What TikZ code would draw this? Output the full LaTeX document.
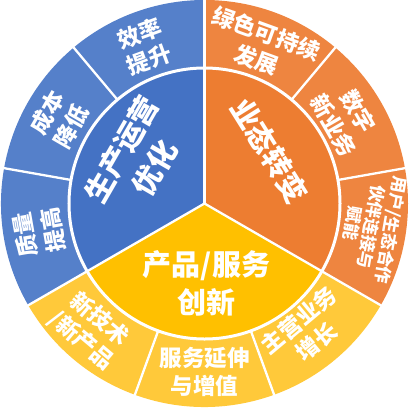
\documentclass[tikz,border=0pt]{standalone}
\usepackage{fontspec}
\newfontfamily\cjk{Noto Sans CJK SC}
\usetikzlibrary{calc}
\definecolor{blueIn}{HTML}{4472C4}
\definecolor{blueOut}{HTML}{5580CA}
\definecolor{orangeIn}{HTML}{ED7D31}
\definecolor{orangeOut}{HTML}{EE8540}
\definecolor{yellowIn}{HTML}{FFC000}
\definecolor{yellowOut}{HTML}{FFC93A}
\def\piepart[#1](#2:#3){\fill[#1] (0,0) -- (#2:136) arc (#2:#3:136) -- cycle;}
\def\ringpart[#1](#2:#3){\fill[#1] (#2:136) arc (#2:#3:136) -- (#3:203.5) arc (#3:#2:203.5) -- cycle;}

\begin{document}
\begin{tikzpicture}[x=1pt, y=1pt,
	outerlab/.style={text=white, inner sep=0pt, align=center, font=\cjk\bfseries\fontsize{22.5}{28}\selectfont},
	smalllab/.style={outerlab, font=\cjk\bfseries\fontsize{17}{19.5}\selectfont},
	innerlab/.style={text=white, inner sep=0pt, align=center, font=\cjk\bfseries\fontsize{29}{38}\selectfont}]
		%%%%% START %%%%%
		
		\useasboundingbox (-204.5, -204.5) rectangle (204.5, 203.5);
		
		% inner pie
		\piepart[blueIn](90:210)
		\piepart[orangeIn](-30:90)
		\piepart[yellowIn](210:330)
		
		% outer ring
		\ringpart[blueOut](90:210)
		\ringpart[orangeOut](-30:90)
		\ringpart[yellowOut](210:330)
		
		% white gaps
		\draw[line width=3pt, color=white] (0, 0) circle (135.5);
		\draw[line width=2.3pt, color=white] (0, 0) -- (90:137);
		\draw[line width=2.3pt, color=white] (0, 0) -- (210:137);
		\draw[line width=2.3pt, color=white] (0, 0) -- (330:137);
		
		\draw[line width=2.3pt, color=white] (90:135) -- (90:204);
		\draw[line width=2.3pt, color=white] (130:135) -- (130:204);
		\draw[line width=2.3pt, color=white] (170:135) -- (170:204);
		\draw[line width=2.3pt, color=white] (210:135) -- (210:204);
		\draw[line width=2.3pt, color=white] (250:135) -- (250:204);
		\draw[line width=2.3pt, color=white] (290:135) -- (290:204);
		\draw[line width=2.3pt, color=white] (330:135) -- (330:204);
		\draw[line width=2.3pt, color=white] (10:135) -- (10:204);
		\draw[line width=2.3pt, color=white] (50:135) -- (50:204);
		
		% inner labels
		\node[innerlab, rotate=60] (shengchan) at (146:80) {生产运营\\优化};
		\node[innerlab, rotate=-58] (yetai) at (39:84) {业态转变};
		\node[innerlab] (chanpin) at (2, -80) {产品/服务\\创新};
		
		% outer labels
		\node[outerlab, rotate=20] (xiaolv) at (111:168) {效率\\提升};
		\node[outerlab, rotate=60] (chengben) at (150:168) {成本\\降低};
		\node[outerlab, rotate=100] (zhiliang) at (190:168) {质量\\提高};
		
		\node[outerlab, rotate=-20] (lvse) at (70:167) {绿色可持续\\发展};
		\node[outerlab, rotate=-60] (shuzi) at (31:165) {数字\\新业务};
		\node[smalllab, rotate=-100] (yonghu) at (-8:169) {用户/生态合作\\伙伴连接与\\赋能};
		
		\node[outerlab, rotate=-40] (xinjishu) at (228:170) {新技术\\/新产品};
		\node[outerlab] (fuwu) at (270:168) {服务延伸\\与增值};
		\node[outerlab, rotate=40] (zhuying) at (309:164) {主营业务\\增长};
		
		%%%%% END %%%%%
	\end{tikzpicture}
\end{document}
